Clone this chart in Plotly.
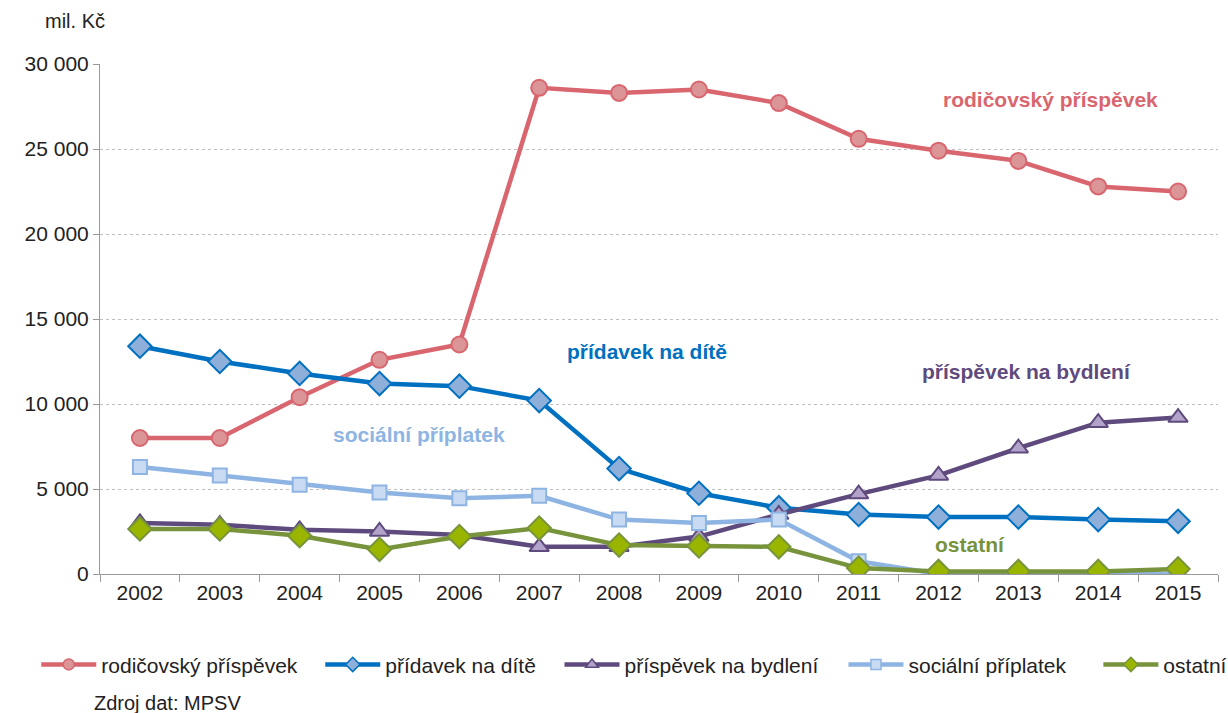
import plotly.graph_objects as go

years = [str(y) for y in range(2002, 2016)]
rodicovsky = [8000, 8000, 10400, 12600, 13500, 28600, 28300, 28500, 27700, 25600, 24900, 24300, 22800, 22500]
pridavek = [13400, 12500, 11800, 11200, 11050, 10200, 6200, 4750, 3900, 3500, 3350, 3350, 3200, 3100]
bydleni = [3000, 2900, 2600, 2500, 2300, 1600, 1600, 2200, 3500, 4700, 5800, 7400, 8900, 9200]
socialni = [6300, 5800, 5250, 4800, 4450, 4600, 3200, 3000, 3200, 750, 0, 0, 0, 0]
ostatni = [2650, 2650, 2250, 1450, 2200, 2700, 1700, 1650, 1600, 350, 150, 150, 150, 300]
ytick_vals = [0, 5000, 10000, 15000, 20000, 25000, 30000]
ytick_text = ["0", "5 000", "10 000", "15 000", "20 000", "25 000", "30 000"]

FONT = "Liberation Sans, Arial, sans-serif"

series = [
    ("rodičovský příspěvek", rodicovsky, "#D9666F", "#DB9597", "circle", 16, 11),
    ("přídavek na dítě", pridavek, "#0070C0", "#8DAFD9", "diamond", 18, 11),
    ("příspěvek na bydlení", bydleni, "#5F4A7E", "#B2A3CA", "triangle-up", 17, 11),
    ("sociální příplatek", socialni, "#8DB4E2", "#C9DBF2", "square", 14, 10),
    ("ostatní", ostatni, "#77933C", "#99B500", "diamond", 18, 11),
]
legend_ids = ["legend", "legend2", "legend3", "legend4", "legend5"]
legend_x = [-0.057, 0.197, 0.411, 0.665, 0.893]

fig = go.Figure()
for (name, vals, lc, fc, sym, sz, lsz), lid in zip(series, legend_ids):
    fig.add_trace(go.Scatter(
        x=years, y=vals, name=name, mode="lines+markers", showlegend=False,
        line=dict(color=lc, width=4.5),
        marker=dict(symbol=sym, size=sz, color=fc, line=dict(color=lc, width=2)),
    ))
    # legend-only entry with the smaller legend marker
    fig.add_trace(go.Scatter(
        x=[None], y=[None], name=name, mode="lines+markers", legend=lid,
        line=dict(color=lc, width=4.5),
        marker=dict(symbol=sym, size=lsz, color=fc, line=dict(color=lc, width=1.5)),
    ))

legend_common = dict(orientation="h", xanchor="left", y=-0.178, yanchor="middle",
                     font=dict(size=21, color="#222222"), itemwidth=55,
                     bgcolor="rgba(0,0,0,0)")
legends = {}
for lid, lx in zip(legend_ids, legend_x):
    legends[lid] = dict(legend_common, x=lx)

fig.update_layout(
    width=1228, height=713,
    margin=dict(l=100, r=10, t=64, b=139, autoexpand=False),
    plot_bgcolor="white", paper_bgcolor="white",
    font=dict(family=FONT, size=21, color="#222222"),
    showlegend=True,
    xaxis=dict(type="category", tickson="boundaries", ticks="outside", ticklen=7,
               tickcolor="#999999", showline=True, linecolor="#999999", linewidth=1,
               showgrid=False, range=[-0.5, 13.5], tickfont=dict(size=21)),
    yaxis=dict(range=[0, 30000], tickvals=ytick_vals, ticktext=ytick_text,
               ticks="outside", ticklen=6, tickcolor="#999999",
               showline=True, linecolor="#999999", linewidth=1,
               showgrid=True, gridcolor="#BFBFBF", griddash="dot", gridwidth=1,
               zeroline=False, tickfont=dict(size=21)),
    **legends,
)

fig.add_annotation(text="mil. Kč", xref="paper", yref="paper", x=-0.051, y=1.085,
                   xanchor="left", yanchor="middle", showarrow=False, font=dict(size=20))
fig.add_annotation(text="Zdroj dat: MPSV", xref="paper", yref="paper", x=-0.007, y=-0.253,
                   xanchor="left", yanchor="middle", showarrow=False, font=dict(size=20))

labels = [
    ("rodičovský příspěvek", 11.4, 27900, "#D9666F"),
    ("přídavek na dítě", 6.35, 13100, "#0070C0"),
    ("příspěvek na bydlení", 11.1, 11900, "#5F4A7E"),
    ("sociální příplatek", 3.5, 8200, "#8DB4E2"),
    ("ostatní", 10.4, 1750, "#77933C"),
]
for txt, xi, yv, c in labels:
    fig.add_annotation(text="<b>" + txt + "</b>", x=xi, y=yv, xref="x", yref="y",
                       showarrow=False, font=dict(size=21, color=c))

fig.write_html("out.html", config={"displayModeBar": False},
               post_script="document.body.style.margin='0';")
